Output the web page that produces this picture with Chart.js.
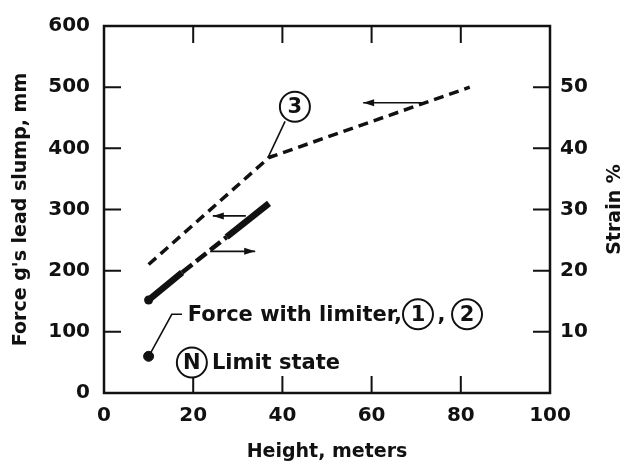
<!DOCTYPE html>
<html><head><meta charset="utf-8">
<script src="https://cdn.jsdelivr.net/npm/chart.js@4.4.1/dist/chart.umd.min.js"></script>
<style>html,body{margin:0;padding:0;background:#fff;}</style>
</head><body>
<canvas id="c" width="626" height="463"></canvas>
<script>
// ---- tick labels ----
const heightTicks = [0, 20, 40, 60, 80, 100];
const forceTicks = [0, 100, 200, 300, 400, 500, 600];
const strainTicks = [10, 20, 30, 40, 50];

// ---- series ----
// curve (3): force g's / lead slump, mm vs height
const curve3Height = [10, 37, 82];
const curve3Force = [210, 385, 500];
// thick curve: strain % vs height
const thickHeight = [10, 17.5, 27.5, 37];
const thickStrain = [15.2, 19.7, 25.5, 31.0];
// force with limiter point
const limiterHeight = [10];
const limiterForce = [60];

// ---- annotations (data units: height, force) ----
const arrowList = [
  {from: [31.8, 289.5], to: [24.4, 289.5]},
  {from: [23.8, 231.6], to: [33.9, 231.6]},
  {from: [72.0, 474.5], to: [58.1, 474.5]}
];
const leaderList = [
  [[10, 59.5], [15.2, 128.7], [17.5, 128.7]],
  [[40.6, 444], [36.9, 387], [38.2, 389]]
];
const circleList = [
  {label: '3', x: 42.8, y: 468},
  {label: 'N', x: 19.7, y: 49.9},
  {label: '1', x: 70.4, y: 128.7},
  {label: '2', x: 81.4, y: 128.7}
];
const textList = [
  {text: 'Force with limiter,', x: 18.8, y: 128.7},
  {text: ',', x: 74.8, y: 128.7},
  {text: 'Limit state', x: 24.2, y: 49.9}
];

const INK = '#111';
const FONT = 'DejaVu Sans';
const tickFont = {family: FONT, size: 20, weight: 'bold'};
const titleFont = {family: FONT, size: 19, weight: 'bold'};

const deco = {
  id: 'deco',
  afterDraw(chart) {
    const ctx = chart.ctx;
    const xs = chart.scales.x, ys = chart.scales.y, y2 = chart.scales.y2;
    const a = chart.chartArea;
    const px = v => xs.getPixelForValue(v);
    const py = v => ys.getPixelForValue(v);
    ctx.save();
    ctx.strokeStyle = INK; ctx.fillStyle = INK;
    // frame
    ctx.lineWidth = 2.5;
    ctx.strokeRect(a.left, a.top, a.right - a.left, a.bottom - a.top);
    // inward ticks
    const TL = 17;
    ctx.lineWidth = 2;
    ctx.beginPath();
    heightTicks.forEach(v => {
      if (v === 0 || v === 100) return;
      const x = px(v);
      ctx.moveTo(x, a.bottom); ctx.lineTo(x, a.bottom - TL);
      ctx.moveTo(x, a.top); ctx.lineTo(x, a.top + TL);
    });
    forceTicks.forEach(v => {
      if (v === 0 || v === 600) return;
      const y = py(v);
      ctx.moveTo(a.left, y); ctx.lineTo(a.left + TL, y);
    });
    strainTicks.forEach(v => {
      const y = y2.getPixelForValue(v);
      ctx.moveTo(a.right, y); ctx.lineTo(a.right - TL, y);
    });
    ctx.stroke();

    // leaders
    ctx.lineWidth = 1.6;
    leaderList.forEach(pts => {
      ctx.beginPath();
      pts.forEach((p, i) => {
        const X = px(p[0]), Y = py(p[1]);
        if (i === 0) ctx.moveTo(X, Y); else ctx.lineTo(X, Y);
      });
      ctx.stroke();
    });
    // arrows
    arrowList.forEach(ar => {
      const x1 = px(ar.from[0]), y1 = py(ar.from[1]);
      const x2 = px(ar.to[0]), y2p = py(ar.to[1]);
      ctx.lineWidth = 1.6;
      ctx.beginPath(); ctx.moveTo(x1, y1); ctx.lineTo(x2, y2p); ctx.stroke();
      const ang = Math.atan2(y2p - y1, x2 - x1);
      const L = 11, W = 3.5;
      ctx.beginPath();
      ctx.moveTo(x2, y2p);
      ctx.lineTo(x2 - L * Math.cos(ang) + W * Math.sin(ang), y2p - L * Math.sin(ang) - W * Math.cos(ang));
      ctx.lineTo(x2 - L * Math.cos(ang) - W * Math.sin(ang), y2p - L * Math.sin(ang) + W * Math.cos(ang));
      ctx.closePath(); ctx.fill();
    });
    // circles
    ctx.font = 'bold 21px ' + FONT;
    ctx.textAlign = 'center'; ctx.textBaseline = 'middle';
    circleList.forEach(c => {
      const X = px(c.x), Y = py(c.y);
      ctx.fillStyle = '#fff';
      ctx.beginPath(); ctx.arc(X, Y, 15, 0, Math.PI * 2); ctx.fill();
      ctx.lineWidth = 2;
      ctx.stroke();
      ctx.fillStyle = INK;
      ctx.fillText(c.label, X, Y + 1);
    });
    // texts
    ctx.textAlign = 'left';
    textList.forEach(t => {
      ctx.fillText(t.text, px(t.x), py(t.y) + 1);
    });
    // right axis title
    ctx.save();
    ctx.font = 'bold 19px ' + FONT;
    ctx.textAlign = 'center'; ctx.textBaseline = 'middle';
    ctx.translate(615, (a.top + a.bottom) / 2);
    ctx.rotate(-Math.PI / 2);
    ctx.fillText('Strain %', 0, 0);
    ctx.restore();
    ctx.restore();
  }
};

const toPts = (xsArr, ysArr) => xsArr.map((x, i) => ({x, y: ysArr[i]}));

new Chart(document.getElementById('c'), {
  type: 'line',
  data: {
    datasets: [
      {
        label: 'Curve 3',
        data: toPts(curve3Height, curve3Force),
        yAxisID: 'y',
        borderColor: INK, borderWidth: 3.5, borderDash: [10, 6],
        borderCapStyle: 'butt', pointRadius: 0, fill: false, tension: 0
      },
      {
        label: 'Strain',
        data: toPts(thickHeight, thickStrain),
        yAxisID: 'y2',
        borderColor: INK, borderWidth: 6.5,
        borderCapStyle: 'butt', fill: false, tension: 0,
        pointRadius: [4.5, 0, 0, 0], pointBackgroundColor: INK, pointBorderWidth: 0,
        segment: {
          borderDash: c => c.p0DataIndex === 1 ? [13, 5] : undefined,
          borderWidth: c => c.p0DataIndex === 1 ? 4.5 : 6.5
        }
      },
      {
        label: 'Force with limiter',
        data: toPts(limiterHeight, limiterForce),
        yAxisID: 'y',
        showLine: false, pointRadius: 5, pointBackgroundColor: INK, pointBorderColor: INK
      }
    ]
  },
  options: {
    responsive: false, animation: false,
    layout: {padding: {top: 20, left: 0, right: 0, bottom: 0}},
    plugins: {legend: {display: false}, tooltip: {enabled: false}},
    scales: {
      x: {
        type: 'linear', min: 0, max: 100,
        afterBuildTicks: s => { s.ticks = heightTicks.map(v => ({value: v})); },
        ticks: {font: tickFont, color: INK, padding: 11, maxRotation: 0, autoSkip: false},
        grid: {display: false, drawTicks: false}, border: {display: false},
        title: {display: true, text: 'Height, meters', font: titleFont, color: INK, padding: {top: 0, bottom: 0}},
        afterFit: s => { s.height = 70; }
      },
      y: {
        position: 'left', min: 0, max: 600,
        afterBuildTicks: s => { s.ticks = forceTicks.map(v => ({value: v})); },
        ticks: {font: tickFont, color: INK, padding: 14, autoSkip: false},
        grid: {display: false, drawTicks: false}, border: {display: false},
        title: {display: true, text: "Force g's lead slump, mm", font: titleFont, color: INK, padding: {top: 10, bottom: 0}},
        afterFit: s => { s.width = 104; }
      },
      y2: {
        position: 'right', min: 0, max: 60,
        afterBuildTicks: s => { s.ticks = strainTicks.map(v => ({value: v})); },
        ticks: {font: tickFont, color: INK, padding: 10, autoSkip: false},
        grid: {display: false, drawTicks: false}, border: {display: false},
        afterFit: s => { s.width = 76; }
      }
    }
  },
  plugins: [deco]
});
</script>
</body></html>
